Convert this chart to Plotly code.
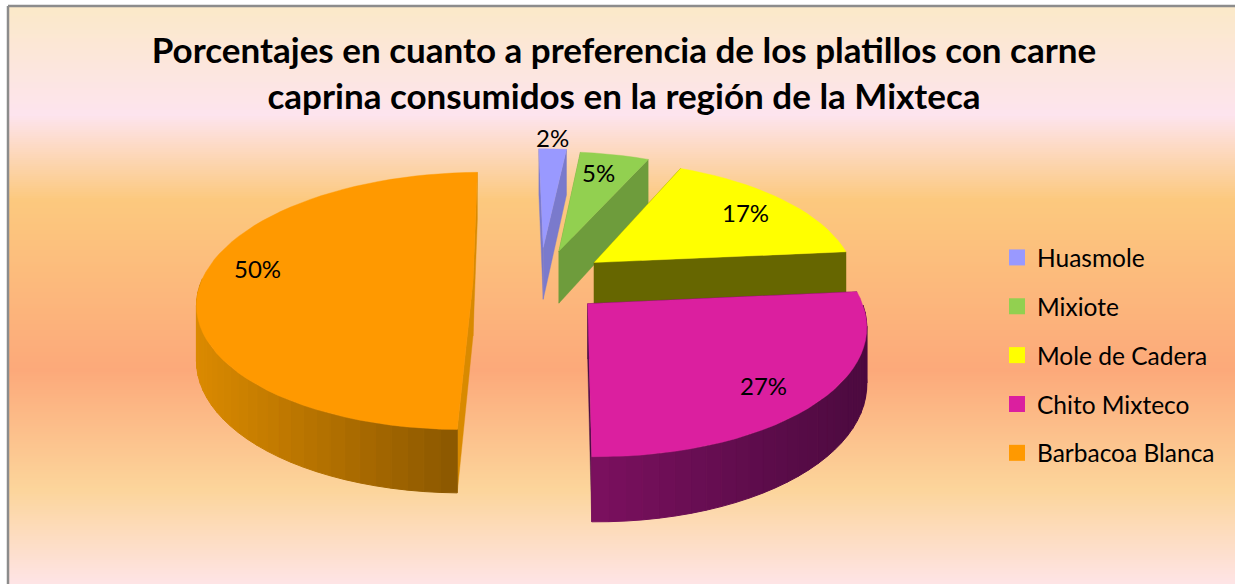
import math
import plotly.graph_objects as go

# ---- data ----
categories = ["Huasmole", "Mixiote", "Mole de Cadera", "Chito Mixteco", "Barbacoa Blanca"]
values = [2, 5, 17, 27, 50]
title_lines = ["Porcentajes en cuanto a preferencia de los platillos con carne",
               "caprina consumidos en la región de la Mixteca"]

# ---- style ----
top_colors = ["#9999FF", "#92D050", "#FFFF00", "#DB1F9F", "#FF9900"]
wall_dark = ["#7A7ACC", "#6E9C3C", "#666600", "#4C0A3F", "#8C5800"]
wall_light = ["#7A7ACC", "#6E9C3C", "#666600", "#7C1060", "#DB8A00"]
radial_colors = ["#7A7ACC", "#6E9C3C", "#666600", "#4A0A45", "#D98A00"]
explode = [76, 72, 72, 70, 66]
nudge_x = [11, 12, 8, 6, 10]
nudge_y = [0, 2, 0, -3, 0]
radii = [263, 263, 263, 268, 272]
label_xy = [(552, 137), (598, 172), (745, 212), (763, 385), (257, 268)]
draw_order = [0, 1, 2, 4, 3]
bg_stops = [(6, "#FBE9C8"), (115, "#FDE4EE"), (200, "#FCC97E"), (370, "#FCA97A"),
            (490, "#FCD59B"), (584, "#FEE4E6")]

W, H = 1235, 584
# perspective pie geometry
VX, VY, HZ = 536, -573, 855
K = 0.000555
CX0, THICK, ROT, YSCALE = -7, 54, math.radians(-0.9), 0.975


def project(X, Y, z=0):
    s = 1 / (1 - Y * K)
    return VX + X * s, VY + (HZ + z) * s


def hex2rgb(c):
    return tuple(int(c[i:i + 2], 16) for i in (1, 3, 5))


def mix(a, b, t):
    ra, rb = hex2rgb(a), hex2rgb(b)
    return "rgb(%d,%d,%d)" % tuple(round(p + (q - p) * t) for p, q in zip(ra, rb))


def poly(points, color, width=1.0):
    xs = [p[0] for p in points] + [points[0][0]]
    ys = [p[1] for p in points] + [points[0][1]]
    return go.Scatter(x=xs, y=ys, mode="lines", fill="toself", fillcolor=color,
                      line=dict(color=color, width=width), hoverinfo="skip",
                      showlegend=False)


fig = go.Figure()

# gradient background
edges = list(range(bg_stops[0][0], H + 1, 2))
centers = [e + 1 for e in edges[:-1]]
lo, hi = bg_stops[0][0], bg_stops[-1][0]
fig.add_trace(go.Heatmap(
    x=[8, W], y=edges, z=[[c] for c in centers], zmin=lo, zmax=hi, showscale=False,
    colorscale=[[(p - lo) / (hi - lo), c] for p, c in bg_stops], hoverinfo="skip"))

# pie slices
total = sum(values)
starts = []
acc = ROT
for v in values:
    starts.append(acc)
    acc += v / total * 2 * math.pi

for i in draw_order:
    a0 = starts[i]
    a1 = a0 + values[i] / total * 2 * math.pi
    mid = (a0 + a1) / 2
    R = radii[i]
    ox = CX0 + explode[i] * math.sin(mid) + nudge_x[i]
    oy = -explode[i] * math.cos(mid) + nudge_y[i]
    n = max(4, int((a1 - a0) / (2 * math.pi) * 120))
    angles = [a0 + (a1 - a0) * j / n for j in range(n + 1)]
    rim = [(ox + R * math.sin(a), oy - R * YSCALE * math.cos(a)) for a in angles]

    # radial walls
    for px, py in (rim[0], rim[-1]):
        fig.add_trace(poly([project(ox, oy), project(px, py),
                            project(px, py, THICK), project(ox, oy, THICK)], radial_colors[i], 0.4))
    # rim strips facing the viewer
    for j in range(n):
        (x1, y1), (x2, y2) = rim[j], rim[j + 1]
        if y1 + y2 - 2 * oy <= 0:
            continue
        sx1 = project(x1, y1)[0]
        t = min(1, max(0, (sx1 - (197 if i == 4 else 596)) / (265 if i == 4 else 270)))
        fig.add_trace(poly([project(x1, y1), project(x2, y2),
                            project(x2, y2, THICK), project(x1, y1, THICK)],
                           mix(wall_light[i], wall_dark[i], t)))
    # top face
    fig.add_trace(poly([project(ox, oy)] + [project(*p) for p in rim], top_colors[i], 0.4))

# legend entries
for name, col in zip(categories, top_colors):
    fig.add_trace(go.Scatter(x=[None], y=[None], mode="markers", name=name, legendgroup=name,
                             marker=dict(symbol="square", size=16, color=col)))

# percentage labels
annotations = [dict(x=x, y=y, xref="x", yref="y", text=f"{v}%", showarrow=False,
                    font=dict(family="Lato", size=24, color="black"))
               for v, (x, y) in zip(values, label_xy)]

fig.update_layout(
    width=W, height=H, margin=dict(l=0, r=0, t=0, b=0),
    paper_bgcolor="white", plot_bgcolor="white",
    xaxis=dict(range=[0, W], visible=False, fixedrange=True),
    yaxis=dict(range=[H, 0], visible=False, fixedrange=True),
    title=dict(text="<b>" + "<br>".join(title_lines) + "</b>", x=624 / W, xanchor="center",
               y=1 - 63 / H, yanchor="middle", font=dict(family="Lato", size=35, color="black")),
    legend=dict(x=997 / W, xanchor="left", y=1 - 235 / H, yanchor="top", bgcolor="rgba(0,0,0,0)",
                font=dict(family="Lato", size=24.5, color="black"), tracegroupgap=14),
    annotations=annotations,
    shapes=[dict(type="line", x0=8, x1=W, y0=6, y1=6, line=dict(color="#8C8C8C", width=2.5)),
            dict(type="line", x0=8, x1=8, y0=6, y1=H, line=dict(color="#8C8C8C", width=2.5))],
)
fig.write_html("out.html", config={"displayModeBar": False},
               post_script="document.body.style.margin='0';document.body.style.overflow='hidden';")
